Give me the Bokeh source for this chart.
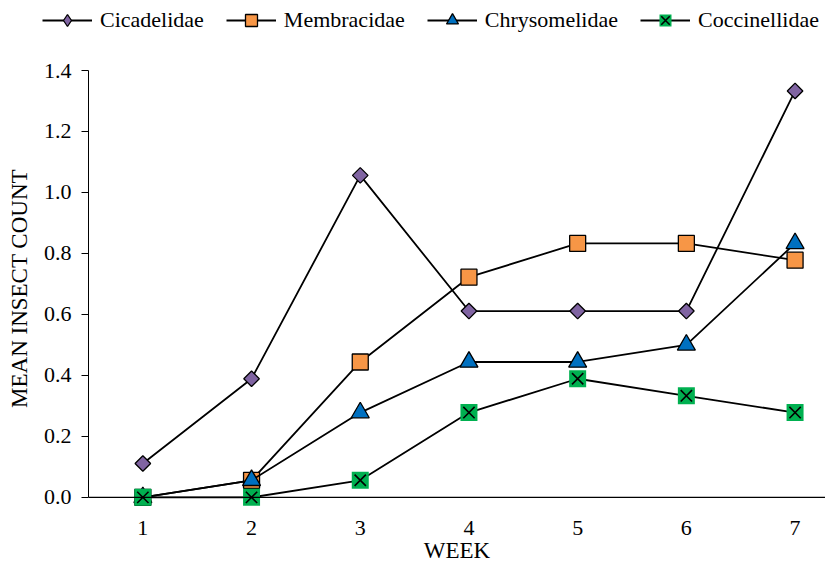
import math
from bokeh.plotting import figure
from bokeh.models import Range1d, Span, Legend, LegendItem, PrintfTickFormatter, FixedTicker
from bokeh.embed import file_html
from bokeh.resources import INLINE

weeks = [1, 2, 3, 4, 5, 6, 7]
cicadelidae = [0.111, 0.389, 1.056, 0.611, 0.611, 0.611, 1.333]
membracidae = [0.0, 0.056, 0.444, 0.722, 0.833, 0.833, 0.778]
chrysomelidae = [0.0, 0.056, 0.278, 0.444, 0.444, 0.5, 0.833]
coccinellidae = [0.0, 0.0, 0.056, 0.278, 0.389, 0.333, 0.278]
series_names = ["Cicadelidae", "Membracidae", "Chrysomelidae", "Coccinellidae"]
y_ticks = [0.0, 0.2, 0.4, 0.6, 0.8, 1.0, 1.2, 1.4]

FONT = "Liberation Serif"
PURPLE, ORANGE, BLUE, GREEN = "#8064A2", "#F79646", "#0070C0", "#00B050"
LW = 1.8

# ---------------- main chart ----------------
p = figure(width=825, height=516, output_backend="svg", toolbar_location=None,
           x_range=Range1d(0.5, 7.28), y_range=Range1d(-0.03, 1.4),
           min_border_left=88, min_border_right=0, min_border_top=20, min_border_bottom=60)
p.outline_line_color = None
p.xgrid.visible = False
p.ygrid.visible = False

p.xaxis.ticker = FixedTicker(ticks=weeks)
p.xaxis.axis_line_color = None
p.xaxis.major_tick_line_color = None
p.xaxis.minor_tick_line_color = None
p.xaxis.major_label_standoff = 8
p.xaxis.major_label_text_font = FONT
p.xaxis.major_label_text_font_size = "22px"
p.xaxis.major_label_text_color = "black"
p.xaxis.axis_label = "WEEK"
p.xaxis.axis_label_standoff = 0
p.xaxis.axis_label_text_font = FONT
p.xaxis.axis_label_text_font_size = "23px"
p.xaxis.axis_label_text_font_style = "normal"
p.xaxis.axis_label_text_color = "black"

p.yaxis.ticker = FixedTicker(ticks=y_ticks)
p.yaxis.formatter = PrintfTickFormatter(format="%.1f")
p.yaxis.bounds = (0, 1.4)
p.yaxis.axis_line_color = "black"
p.yaxis.major_tick_line_color = "black"
p.yaxis.major_tick_out = 7
p.yaxis.major_tick_in = 0
p.yaxis.minor_tick_line_color = None
p.yaxis.major_label_standoff = 10
p.yaxis.major_label_text_font = FONT
p.yaxis.major_label_text_font_size = "22px"
p.yaxis.major_label_text_color = "black"
p.yaxis.axis_label = "MEAN INSECT COUNT"
p.yaxis.axis_label_standoff = 9
p.yaxis.axis_label_text_font = FONT
p.yaxis.axis_label_text_font_size = "23px"
p.yaxis.axis_label_text_font_style = "normal"
p.yaxis.axis_label_text_color = "black"

p.add_layout(Span(location=0, dimension="width", line_color="black", line_width=1.2))

p.line(weeks, cicadelidae, line_color="black", line_width=LW)
p.scatter(weeks, cicadelidae, marker="square", angle=math.pi / 4, size=11,
          fill_color=PURPLE, line_color="black", line_width=1.3)
p.line(weeks, membracidae, line_color="black", line_width=LW)
p.scatter(weeks, membracidae, marker="square", size=16,
          fill_color=ORANGE, line_color="black", line_width=1.3)
p.line(weeks, chrysomelidae, line_color="black", line_width=LW)
p.scatter(weeks, chrysomelidae, marker="triangle", size=18,
          fill_color=BLUE, line_color="black", line_width=1.3)
p.line(weeks, coccinellidae, line_color="black", line_width=LW)
p.scatter(weeks, coccinellidae, marker="square", size=17,
          fill_color=GREEN, line_color=None)
p.scatter(weeks, coccinellidae, marker="x", size=16,
          line_color="black", line_width=1.6)

# ---------------- legend strip ----------------
# Same series drawn in a strip whose ranges keep them out of view; only its legend shows.
lg = figure(width=825, height=50, output_backend="svg", toolbar_location=None,
            x_range=Range1d(100, 101), y_range=Range1d(100, 101),
            x_axis_type=None, y_axis_type=None,
            min_border_left=0, min_border_right=0, min_border_top=0, min_border_bottom=0)
lg.outline_line_color = None
lg.xgrid.visible = False
lg.ygrid.visible = False

a1 = lg.line(weeks, cicadelidae, line_color="black", line_width=LW)
b1 = lg.scatter(weeks, cicadelidae, marker="diamond", size=12,
                fill_color=PURPLE, line_color="black", line_width=1.3)
a2 = lg.line(weeks, membracidae, line_color="black", line_width=LW)
b2 = lg.scatter(weeks, membracidae, marker="square", size=12,
                fill_color=ORANGE, line_color="black", line_width=1.3)
a3 = lg.line(weeks, chrysomelidae, line_color="black", line_width=LW)
b3 = lg.scatter(weeks, chrysomelidae, marker="triangle", size=12,
                fill_color=BLUE, line_color="black", line_width=1.3)
a4 = lg.line(weeks, coccinellidae, line_color="black", line_width=LW)
b4 = lg.scatter(weeks, coccinellidae, marker="square", size=12,
                fill_color=GREEN, line_color=None)
c4 = lg.scatter(weeks, coccinellidae, marker="x", size=12,
                line_color="black", line_width=1.6)

legend = Legend(items=[
    LegendItem(label=series_names[0], renderers=[a1, b1]),
    LegendItem(label=series_names[1], renderers=[a2, b2]),
    LegendItem(label=series_names[2], renderers=[a3, b3]),
    LegendItem(label=series_names[3], renderers=[a4, b4, c4]),
], orientation="horizontal", location=(42, 15),
    glyph_width=50, glyph_height=30, label_standoff=8, spacing=22,
    label_text_font=FONT, label_text_font_size="22px", label_text_color="black",
    border_line_color=None, background_fill_alpha=0, padding=0, margin=0)
lg.add_layout(legend, "center")

# Two independent roots stacked on the page (legend strip, then the chart).
open("out.html", "w").write(file_html([lg, p], INLINE))
